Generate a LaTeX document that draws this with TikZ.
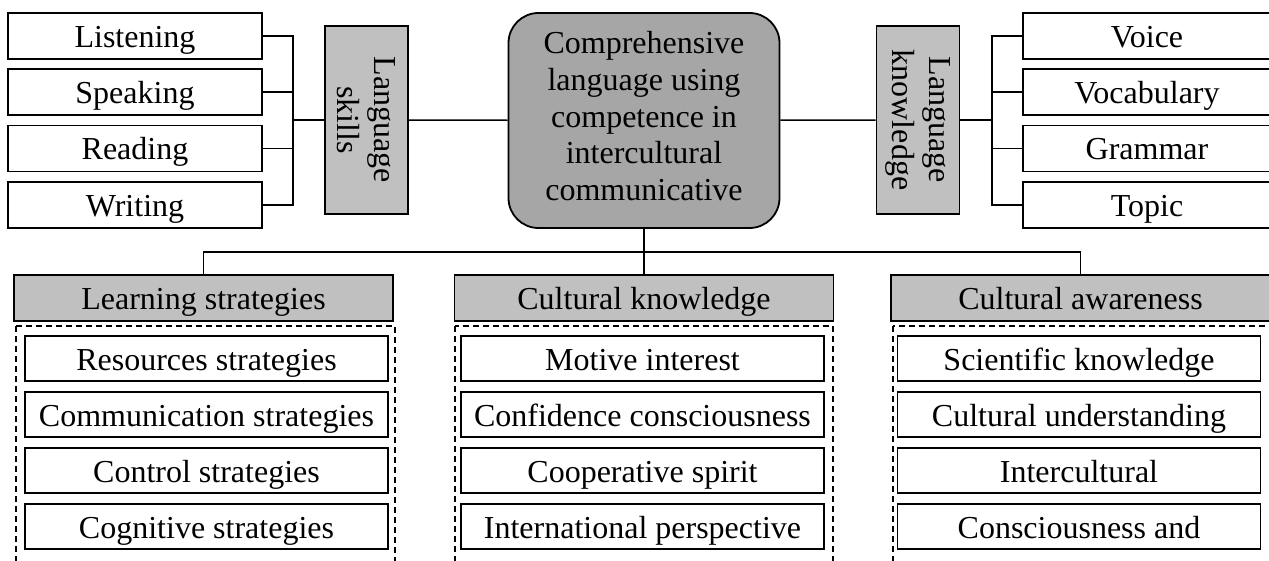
\documentclass[tikz,border=0pt]{standalone}
\usepackage{fontspec}
\setmainfont{Liberation Serif}
\usepackage{xcolor}
\usetikzlibrary{positioning,calc}
\definecolor{boxgrey}{RGB}{192,192,192}
\definecolor{hubgrey}{RGB}{166,166,166}
\tikzset{
    every node/.style={font=\fontsize{32}{36.75}\selectfont},
    leaf/.style={draw, line width=1.8pt, fill=white, minimum width=254pt, minimum height=46pt,
        inner sep=0pt, text height=23pt, text depth=0pt},
    entry/.style={leaf, minimum width=363pt, minimum height=45pt},
    head/.style={leaf, fill=boxgrey, minimum width=379pt},
    side/.style={draw, line width=1.8pt, fill=boxgrey, rotate=-90, align=center,
        minimum width=188pt, minimum height=83pt, inner sep=0pt},
    hub/.style={draw, line width=1.8pt, fill=hubgrey, rounded corners=30pt, align=center,
        minimum width=271pt, minimum height=215pt, inner sep=0pt, text depth=9pt},
    link/.style={line width=1.5pt},
    group/.style={line width=1.5pt, dash pattern=on 6pt off 4pt}
}

\begin{document}
\begin{tikzpicture}[x=1pt,y=-1pt]
    \useasboundingbox (0,0) rectangle (1269,561);
    \node[leaf] (listen) at (135,36) {Listening};
    \node[leaf] (speak) at (135,92) {Speaking};
    \node[leaf] (read) at (135,148.5) {Reading};
    \node[leaf] (write) at (135,205) {Writing};
    \node[side] (skills) at (366.5,120) {Language\\skills};
    \node[hub] (hub) at (644,120.5) {Comprehensive\\language using\\competence in\\intercultural\\communicative};
    \node[side] (know) at (918,120) {Language\\knowledge};
    \node[leaf, minimum width=248pt] (voice) at (1147,36) {Voice};
    \node[leaf, minimum width=248pt] (vocab) at (1147,92) {Vocabulary};
    \node[leaf, minimum width=248pt] (gram) at (1147,148.5) {Grammar};
    \node[leaf, minimum width=248pt] (topic) at (1147,205) {Topic};
    \coordinate (lbar) at (293,120);
    \coordinate (rbar) at (992,120);
    \draw[link] (listen.east) -| (lbar);
    \draw[link] (speak.east) -| (lbar);
    \draw[link] (read.east) -| (lbar);
    \draw[link] (write.east) -| (lbar);
    \draw[link] (lbar) -- (skills);
    \draw[link] (skills) -- (hub);
    \draw[link] (hub) -- (know);
    \draw[link] (know) -- (rbar);
    \draw[link] (voice.west) -| (rbar);
    \draw[link] (vocab.west) -| (rbar);
    \draw[link] (gram.west) -| (rbar);
    \draw[link] (topic.west) -| (rbar);

    \node[head] (learn) at (203.5,298) {Learning strategies};
    \node[head] (culk) at (644,298) {Cultural knowledge};
    \node[head] (aware) at (1080.5,298) {Cultural awareness};
    \coordinate (split) at (644,252);
    \draw[link, line width=2.6pt] (hub.south) -- (culk.north);
    \draw[link] (learn.north) |- (split) -| (aware.north);

    \draw[group] (16,326) rectangle (395,580);
    \draw[group] (455,326) rectangle (833,580);
    \draw[group] (893,326) rectangle (1290,580);

    \node[entry] (res) at (206.5,358.5) {Resources strategies};
    \node[entry] (comm) at (206.5,414.5) {Communication strategies};
    \node[entry] (ctrl) at (206.5,470.5) {Control strategies};
    \node[entry] (cogn) at (206.5,526.5) {Cognitive strategies};
    \node[entry] (motive) at (642.5,358.5) {Motive interest};
    \node[entry] (conf) at (642.5,414.5) {Confidence consciousness};
    \node[entry] (coop) at (642.5,470.5) {Cooperative spirit};
    \node[entry] (intl) at (642.5,526.5) {International perspective};
    \node[entry] (sci) at (1079,358.5) {Scientific knowledge};
    \node[entry] (under) at (1079,414.5) {Cultural understanding};
    \node[entry] (inter) at (1079,470.5) {Intercultural};
    \node[entry] (consc) at (1079,526.5) {Consciousness and};
\end{tikzpicture}
\end{document}
